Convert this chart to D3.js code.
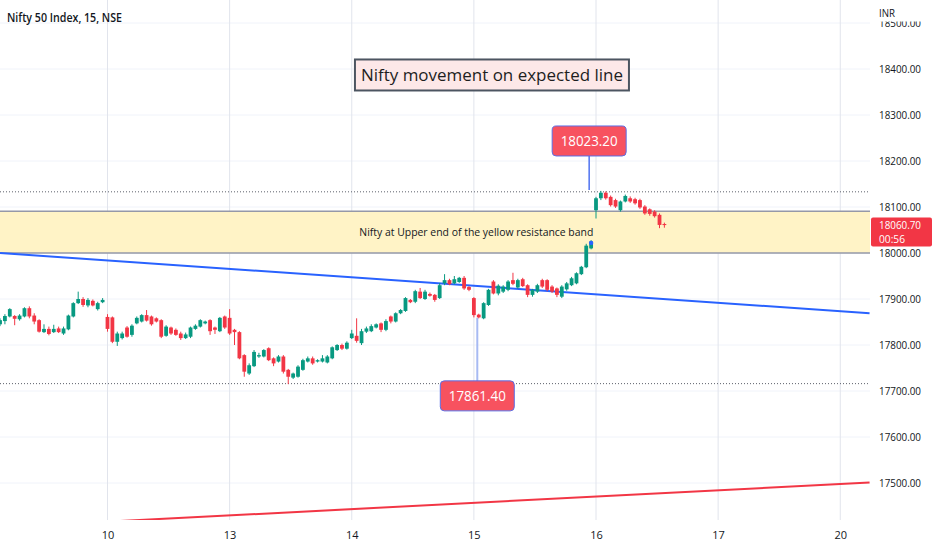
<!DOCTYPE html>
<html>
<head>
<meta charset="utf-8">
<title>Nifty 50 Index, 15, NSE</title>
<script src="https://cdn.jsdelivr.net/npm/d3@7"></script>
<style>
  body { margin: 0; background: #fff; }
  text { font-family: "Open Sans", "Noto Sans", sans-serif; fill: #131722; }
  .axis path { stroke: none; fill: none; }
  .axis text { font-size: 11px; }
</style>
</head>
<body>
<script>

// 15 minute bars, first value is bar index -22 (Feb 9), bar 0 = first bar of the 10th
var firstBar = -22;
var opens  = [17845,17852,17862,17863,17856,17862,17880,17864,17854,17828,17835,17828,17836,17825,17834,17862,17891,17900,17886,17896,17878,17893,
              17861,17860,17807,17815,17838,17822,17847,17851,17865,17862,17858,17854,17820,17838,17833,17825,17815,17818,17835,17840,17847,17854,17838,17830,17862,
              17859,17833,17828,17778,17738,17754,17775,17775,17793,17771,17764,17775,17746,17729,17731,17746,17764,17771,17764,17764,17762,17771,17789,17800,17792,
              17815,17820,17804,17829,17830,17838,17847,17833,17862,17851,17869,17874,17898,17894,17916,17900,17911,17909,17902,17934,17941,17934,17937,17946,17926,
              17902,17866,17858,17887,17938,17912,17916,17920,17941,17925,17943,17930,17909,17916,17941,17941,17927,17923,17905,17921,17930,17934,17954,17969,18010,
              18093,18119,18131,18122,18115,18093,18112,18119,18117,18115,18101,18095,18090,18083,18063];
var highs  = [17858,17867,17880,17865,17867,17882,17884,17869,17856,17845,17840,17844,17840,17840,17866,17893,17916,17904,17902,17899,17894,17902,
              17867,17862,17829,17829,17841,17845,17862,17867,17876,17864,17860,17856,17843,17840,17836,17829,17827,17840,17845,17856,17853,17856,17840,17861,17864,
              17878,17835,17830,17780,17760,17789,17783,17791,17795,17773,17778,17778,17748,17740,17756,17770,17775,17775,17769,17778,17778,17797,17802,17803,17808,
              17833,17858,17835,17840,17845,17847,17849,17856,17864,17871,17878,17904,17900,17920,17924,17920,17914,17911,17935,17954,17944,17950,17948,17950,17928,
              17904,17868,17893,17922,17941,17932,17930,17941,17957,17944,17946,17932,17922,17933,17944,17943,17930,17925,17930,17937,17948,17958,17972,18020,18028,
              18122,18135,18134,18125,18118,18114,18127,18123,18120,18118,18104,18097,18093,18086,18066];
var lows   = [17841,17845,17860,17843,17853,17860,17858,17845,17827,17826,17821,17826,17826,17822,17832,17860,17889,17883,17882,17884,17875,17891,
              17829,17804,17798,17812,17816,17818,17845,17849,17851,17842,17849,17815,17818,17822,17820,17811,17813,17815,17833,17838,17845,17822,17824,17828,17835,
              17822,17800,17769,17731,17735,17752,17772,17773,17765,17754,17762,17738,17715,17726,17729,17744,17762,17757,17762,17762,17760,17769,17787,17789,17790,
              17813,17805,17800,17826,17828,17836,17828,17830,17847,17849,17867,17872,17891,17891,17900,17898,17905,17894,17900,17930,17930,17932,17935,17920,17917,
              17860,17858,17856,17885,17910,17908,17913,17917,17930,17922,17926,17904,17905,17913,17924,17917,17913,17904,17902,17918,17928,17932,17952,17967,18008,
              18075,18115,18116,18101,18098,18090,18110,18109,18105,18096,18083,18081,18077,18054,18055];
var closes = [17854,17863,17878,17857,17864,17880,17862,17851,17829,17835,17824,17835,17828,17836,17864,17891,17900,17887,17898,17886,17891,17898,
              17835,17807,17825,17825,17818,17842,17859,17865,17853,17845,17851,17818,17840,17825,17822,17815,17823,17838,17842,17854,17851,17830,17833,17859,17838,
              17825,17828,17771,17742,17756,17785,17778,17789,17767,17760,17775,17742,17731,17738,17753,17767,17771,17760,17767,17771,17775,17795,17800,17792,17805,
              17825,17809,17830,17836,17841,17845,17833,17852,17851,17869,17876,17902,17893,17917,17902,17916,17907,17898,17930,17941,17932,17943,17946,17923,17920,
              17865,17860,17891,17920,17912,17929,17927,17938,17933,17941,17928,17909,17920,17930,17927,17920,17916,17909,17927,17934,17945,17956,17970,18016,18025,
              18119,18131,18119,18104,18101,18112,18124,18112,18108,18099,18086,18085,18080,18061,18060.7];

var dayLabels = ["10", "13", "14", "15", "16", "17", "20"];
var dayStart  = [0, 25, 50, 75, 100, 125, 150];
var priceTicks = [17500, 17600, 17700, 17800, 17900, 18000, 18100, 18200, 18300, 18400, 18500];

// drawings: resistance band, dotted levels, trend lines (bar index, price)
var bandTop = 18091, bandBottom = 18000;
var dottedLevels = [18133, 17716];
var blueLine = [{i: -22, p: 18000}, {i: 156, p: 17869}];
var redLine  = [{i: -22, p: 17404}, {i: 156, p: 17501}];
var lastPrice = 18060.70, countdown = "00:56";
var calloutHigh = {text: "18023.20", i: 98.6, p: 18137};
var calloutLow  = {text: "17861.40", i: 75.7, p: 17859};
var noteTitle = {text: "Nifty movement on expected line", i: 78.7, p: 18387};
var noteBand  = {text: "Nifty at Upper end of the yellow resistance band", i: 75.5, p: 18045};

var width = 932, height = 550;
var paneRight = 870, paneBottom = 520;

var xScale = d3.scaleLinear().domain([0, 150]).range([107.5, 840.25]);
var yScale = d3.scaleLinear().domain([17500, 18400]).range([483, 69]);

var up = '#089981', down = '#f23645';

function fit(sel, w) {
  sel.attr('textLength', w).attr('lengthAdjust', 'spacingAndGlyphs');
}

var svg = d3.select('body').append('svg')
  .attr('width', width)
  .attr('height', height);

var defs = svg.append('defs');
defs.append('clipPath').attr('id', 'pane')
  .append('rect').attr('x', 0).attr('y', 0).attr('width', paneRight).attr('height', paneBottom);
defs.append('clipPath').attr('id', 'scale')
  .append('rect').attr('x', paneRight).attr('y', 21.5).attr('width', width - paneRight).attr('height', paneBottom);

var pane = svg.append('g').attr('clip-path', 'url(#pane)');

// grid
pane.selectAll('.hgrid').data(priceTicks).enter().append('line')
  .attr('x1', 0).attr('x2', paneRight)
  .attr('y1', function(d) { return yScale(d); })
  .attr('y2', function(d) { return yScale(d); })
  .attr('stroke', '#f0f3fa').attr('stroke-width', 1);

pane.selectAll('.vgrid').data(dayStart).enter().append('line')
  .attr('x1', function(d) { return xScale(d); })
  .attr('x2', function(d) { return xScale(d); })
  .attr('y1', 0).attr('y2', paneBottom)
  .attr('stroke', '#e1e4ec').attr('stroke-width', 1);

// yellow band
pane.append('rect')
  .attr('x', 0).attr('width', paneRight)
  .attr('y', yScale(bandTop))
  .attr('height', yScale(bandBottom) - yScale(bandTop))
  .attr('fill', '#fff3c6');
pane.selectAll('.bandEdge').data([bandTop, bandBottom]).enter().append('line')
  .attr('x1', 0).attr('x2', paneRight)
  .attr('y1', function(d) { return yScale(d); })
  .attr('y2', function(d) { return yScale(d); })
  .attr('stroke', '#9598a8').attr('stroke-width', 1.5);

pane.append('text')
  .attr('x', xScale(noteBand.i)).attr('y', yScale(noteBand.p))
  .attr('dy', '0.35em').attr('text-anchor', 'middle')
  .style('font-size', '10.5px')
  .text(noteBand.text)
  .call(fit, 234);

pane.selectAll('.dotted').data(dottedLevels).enter().append('line')
  .attr('x1', 0).attr('x2', paneRight)
  .attr('y1', function(d) { return yScale(d); })
  .attr('y2', function(d) { return yScale(d); })
  .attr('stroke', '#5d606b').attr('stroke-width', 1)
  .attr('stroke-dasharray', '1,2');

// trend lines
var trend = d3.line()
  .x(function(d) { return xScale(d.i); })
  .y(function(d) { return yScale(d.p); });

pane.append('path').datum(blueLine).attr('d', trend)
  .attr('fill', 'none').attr('stroke', '#2962ff').attr('stroke-width', 2);
pane.append('path').datum(redLine).attr('d', trend)
  .attr('fill', 'none').attr('stroke', '#f23645').attr('stroke-width', 2);

// callout pointers (under candles)
pane.append('line')
  .attr('x1', xScale(calloutLow.i)).attr('x2', xScale(calloutLow.i))
  .attr('y1', yScale(calloutLow.p)).attr('y2', yScale(calloutLow.p) + 64)
  .attr('stroke', '#a7baf3').attr('stroke-width', 2);
pane.append('line')
  .attr('x1', xScale(calloutHigh.i)).attr('x2', xScale(calloutHigh.i))
  .attr('y1', yScale(calloutHigh.p)).attr('y2', yScale(calloutHigh.p) - 34)
  .attr('stroke', '#4f72f0').attr('stroke-width', 1.5);

// candles
var bars = opens.map(function(o, k) {
  return {i: firstBar + k, o: o, h: highs[k], l: lows[k], c: closes[k]};
});

var candle = pane.selectAll('.candle').data(bars).enter().append('g');
candle.append('line')
  .attr('x1', function(d) { return xScale(d.i); })
  .attr('x2', function(d) { return xScale(d.i); })
  .attr('y1', function(d) { return yScale(d.h); })
  .attr('y2', function(d) { return yScale(d.l); })
  .attr('stroke', function(d) { return d.c >= d.o ? up : down; })
  .attr('stroke-width', 1);
candle.append('rect')
  .attr('x', function(d) { return xScale(d.i) - 1.9; })
  .attr('width', 3.8)
  .attr('y', function(d) { return yScale(Math.max(d.o, d.c)); })
  .attr('height', function(d) { return Math.max(1, Math.abs(yScale(d.o) - yScale(d.c))); })
  .attr('fill', function(d) { return d.c >= d.o ? up : down; });

// blue dot on the breakout bar
pane.append('circle')
  .attr('cx', xScale(99)).attr('cy', yScale(18022))
  .attr('r', 2.2).attr('fill', '#2962ff');

// callout boxes
function callout(c, top) {
  var g = pane.append('g');
  g.append('rect')
    .attr('x', xScale(c.i) - 37).attr('y', top)
    .attr('width', 74).attr('height', 30).attr('rx', 4)
    .attr('fill', '#f7525f').attr('stroke', '#5a6fe6').attr('stroke-width', 1);
  g.append('text')
    .attr('x', xScale(c.i)).attr('y', top + 15)
    .attr('dy', '0.35em').attr('text-anchor', 'middle')
    .style('font-size', '14.5px').style('fill', '#fff')
    .text(c.text)
    .call(fit, 57);
}
callout(calloutHigh, yScale(calloutHigh.p) - 64);
callout(calloutLow, yScale(calloutLow.p) + 63);

// title note
var tx = xScale(noteTitle.i), ty = yScale(noteTitle.p);
pane.append('rect')
  .attr('x', tx - 137).attr('y', ty - 15.5)
  .attr('width', 274).attr('height', 31)
  .attr('fill', '#fde8e8').attr('stroke', '#4c5561').attr('stroke-width', 2);
pane.append('text')
  .attr('x', tx).attr('y', ty)
  .attr('dy', '0.36em').attr('text-anchor', 'middle')
  .style('font-size', '17px').style('fill', '#1e1e1e')
  .text(noteTitle.text)
  .call(fit, 262);

// price axis, top tick partly hidden under the currency header
var yAxis = d3.axisRight(yScale)
  .tickValues(priceTicks)
  .tickSize(0).tickPadding(9)
  .tickFormat(d3.format('.2f'));
var yg = svg.append('g').attr('class', 'axis')
  .attr('clip-path', 'url(#scale)')
  .append('g')
  .attr('transform', 'translate(' + paneRight + ',0)')
  .call(yAxis);
yg.selectAll('text').call(fit, 42);

// x axis
var xAxis = d3.axisBottom(xScale)
  .tickValues(dayStart)
  .tickSize(0).tickPadding(11)
  .tickFormat(function(d, i) { return dayLabels[i]; });
svg.append('g').attr('class', 'axis')
  .attr('transform', 'translate(0,' + paneBottom + ')')
  .call(xAxis);

svg.append('text').attr('x', 879).attr('y', 17)
  .style('font-size', '11px').text('INR').call(fit, 16);

// last price label
var lp = yScale(lastPrice);
svg.append('rect')
  .attr('x', paneRight + 1).attr('y', lp - 7.5)
  .attr('width', width - paneRight - 1).attr('height', 29)
  .attr('rx', 2).attr('fill', '#f23645');
svg.append('text').attr('x', 879).attr('y', lp).attr('dy', '0.35em')
  .style('font-size', '11px').style('fill', '#fff')
  .text(d3.format('.2f')(lastPrice)).call(fit, 42);
svg.append('text').attr('x', 879).attr('y', lp + 14).attr('dy', '0.35em')
  .style('font-size', '11px').style('fill', '#fff')
  .text(countdown).call(fit, 26);

// legend
svg.append('text').attr('x', 7).attr('y', 22)
  .style('font-size', '12.5px').style('font-weight', '600')
  .text('Nifty 50 Index, 15, NSE').call(fit, 115);

</script>
</body>
</html>
